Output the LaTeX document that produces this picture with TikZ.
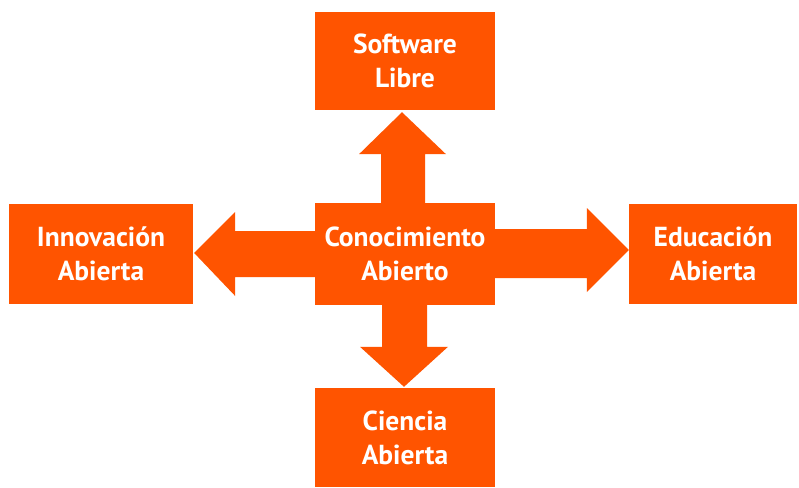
\documentclass[tikz,border=0pt]{standalone}
\usepackage{fontspec}
\setmainfont{PT Sans}
\usetikzlibrary{calc}
\definecolor{naranja}{RGB}{255,84,0}
\tikzset{
  caja/.style={fill=naranja, draw=none, text=white, align=center,
    font=\fontsize{27.5}{34}\selectfont\bfseries, inner sep=0pt, anchor=center},
  flecha/.style={fill=naranja, draw=none}
}
\begin{document}
\begin{tikzpicture}[x=1pt,y=1pt]
\useasboundingbox (0,0) rectangle (799,-487);
\fill[white] (0,0) rectangle (799,-487);
% nodes
\node[caja, minimum width=180pt, minimum height=98pt] (top) at (405,-61) {Software\\Libre};
\node[caja, minimum width=180pt, minimum height=102pt] (c) at (405,-254) {Conocimiento\\Abierto};
\node[caja, minimum width=184pt, minimum height=100pt] (left) at (101,-254) {Innovación\\Abierta};
\node[caja, minimum width=168pt, minimum height=100pt] (right) at (713,-254) {Educación\\Abierta};
\node[caja, minimum width=180pt, minimum height=99pt] (bot) at (405,-437.5) {Ciencia\\Abierta};
% up arrow
\fill[flecha] ($(c.north)+(-24,0)$) -- ($(top.south)+(-24,-44)$) -- ($(top.south)+(-46,-44)$)
  -- ($(top.south)+(-3,-2)$) -- ($(top.south)+(41,-44)$) -- ($(top.south)+(20,-44)$) -- ($(c.north)+(20,0)$) -- cycle;
% down arrow
\fill[flecha] ($(c.south)+(-23,0)$) -- ($(bot.north)+(-23,41)$) -- ($(bot.north)+(-45,41)$)
  -- ($(bot.north)+(-1,1)$) -- ($(bot.north)+(43,41)$) -- ($(bot.north)+(22,41)$) -- ($(c.south)+(22,0)$) -- cycle;
% left arrow
\fill[flecha] ($(c.west)+(0,23)$) -- ($(left.east)+(42,23)$) -- ($(left.east)+(42,42)$)
  -- ($(left.east)+(1,1)$) -- ($(left.east)+(42,-42)$) -- ($(left.east)+(42,-23)$) -- ($(c.west)+(0,-23)$) -- cycle;
% right arrow
\fill[flecha] ($(c.east)+(0,25)$) -- ($(right.west)+(-42,25)$) -- ($(right.west)+(-42,46)$)
  -- ($(right.west)+(0,4)$) -- ($(right.west)+(-42,-38)$) -- ($(right.west)+(-42,-24)$) -- ($(c.east)+(0,-24)$) -- cycle;
\end{tikzpicture}
\end{document}
